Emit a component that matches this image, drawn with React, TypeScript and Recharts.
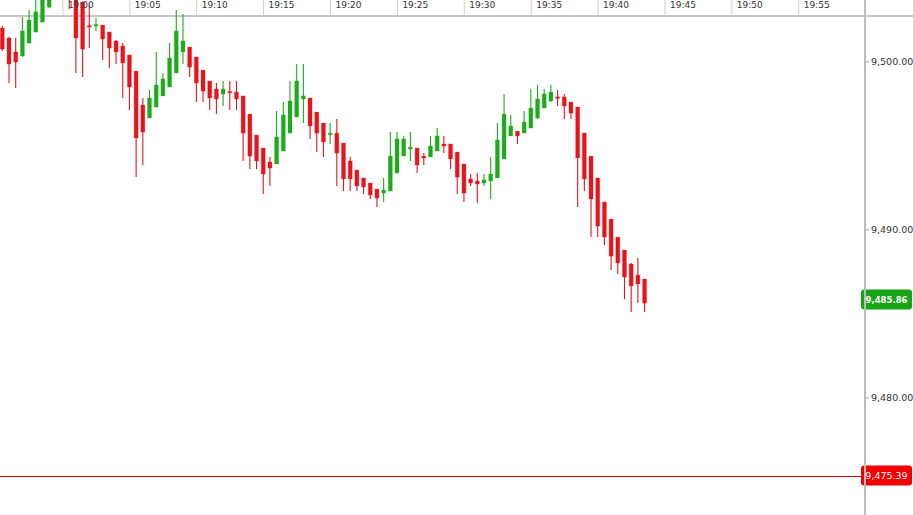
import { Bar, ComposedChart, ReferenceLine, XAxis, YAxis } from "recharts";

const RED = "#e8141c";
const GREEN = "#1daa1d";
const FONT = "'DejaVu Sans', Verdana, sans-serif";

// 30 second candles, minutes relative to 19:00 (first one is 18:55:30)
const firstCandle = -4.5;
const candleStep = 0.5;

const open = [
  9502.02, 9501.43, 9500.6, 9500.36, 9501.13, 9501.79, 9502.38, 9503.27, 9504.8, 9505.6,
  9505.0, 9504.0, 9503.57, 9502.17, 9502.17, 9502.2, 9501.79, 9501.25, 9500.95, 9500.42,
  9499.46, 9497.44, 9496.67, 9497.32, 9497.98, 9498.51, 9499.35, 9500.6, 9500.89, 9500.3,
  9499.52, 9498.87, 9498.39, 9498.1, 9498.25, 9498.21, 9497.98, 9496.9, 9495.65, 9494.88,
  9494.05, 9493.93, 9494.7, 9495.77, 9496.73, 9497.8, 9497.86, 9497.02, 9496.37, 9495.71,
  9495.77, 9495.18, 9494.11, 9493.57, 9493.1, 9492.8, 9492.44, 9492.2, 9492.32, 9493.39,
  9494.4, 9494.82, 9494.88, 9494.4, 9494.35, 9494.7, 9495.12, 9495.12, 9494.64, 9493.93,
  9493.04, 9492.92, 9492.8, 9492.92, 9493.1, 9494.23, 9495.6, 9495.89, 9495.77, 9496.07,
  9496.67, 9497.26, 9497.68, 9497.92, 9497.92, 9497.62, 9497.32, 9495.77, 9494.4, 9493.1,
  9491.67, 9490.65, 9489.58, 9488.81, 9487.98, 9487.32, 9487.08,
];
const high = [
  9502.14, 9501.5, 9501.43, 9502.68, 9503.1, 9504.0, 9504.5, 9505.2, 9506.0, 9506.1,
  9505.4, 9504.3, 9503.6, 9503.39, 9502.62, 9502.2, 9501.79, 9501.31, 9501.13, 9500.42,
  9499.46, 9497.86, 9498.33, 9500.6, 9499.35, 9501.13, 9503.1, 9502.86, 9500.89, 9500.3,
  9499.52, 9498.87, 9498.75, 9498.87, 9498.87, 9498.87, 9497.98, 9496.9, 9495.65, 9494.88,
  9494.35, 9497.08, 9497.62, 9498.87, 9499.88, 9499.88, 9497.86, 9497.02, 9496.37, 9496.37,
  9496.61, 9495.18, 9494.35, 9493.57, 9493.1, 9492.8, 9492.44, 9493.1, 9495.83, 9495.83,
  9495.6, 9495.83, 9494.88, 9494.58, 9495.6, 9496.07, 9495.6, 9495.12, 9494.64, 9493.93,
  9493.33, 9493.39, 9493.33, 9494.35, 9496.37, 9498.1, 9496.85, 9495.89, 9497.08, 9498.39,
  9498.63, 9498.39, 9498.63, 9498.33, 9498.1, 9497.62, 9497.32, 9495.77, 9494.4, 9493.1,
  9491.67, 9490.65, 9489.58, 9488.81, 9488.04, 9488.33, 9487.08,
];
const low = [
  9500.65, 9498.75, 9498.45, 9500.3, 9501.1, 9501.75, 9502.35, 9503.2, 9504.5, 9504.6,
  9503.15, 9499.35, 9499.11, 9500.83, 9501.85, 9500.12, 9499.64, 9499.88, 9497.86, 9497.14,
  9493.15, 9493.87, 9496.67, 9497.32, 9497.98, 9498.51, 9499.35, 9499.88, 9499.11, 9497.62,
  9497.62, 9497.14, 9496.9, 9497.38, 9497.14, 9497.14, 9494.11, 9493.63, 9493.63, 9492.14,
  9492.62, 9493.93, 9494.7, 9495.77, 9496.73, 9496.37, 9495.42, 9494.64, 9494.35, 9495.12,
  9492.62, 9492.32, 9492.32, 9492.32, 9492.14, 9491.85, 9491.37, 9491.67, 9492.32, 9493.39,
  9494.4, 9494.11, 9493.39, 9493.87, 9494.35, 9494.7, 9494.58, 9493.63, 9492.14, 9491.67,
  9492.62, 9491.61, 9492.62, 9491.85, 9493.1, 9494.23, 9495.6, 9495.12, 9495.77, 9496.07,
  9496.61, 9497.26, 9497.62, 9497.38, 9496.61, 9496.61, 9491.37, 9492.32, 9489.58, 9489.58,
  9489.11, 9487.62, 9487.38, 9485.89, 9485.12, 9485.65, 9485.12,
];
const close = [
  9500.77, 9499.88, 9500.0, 9501.85, 9502.5, 9502.98, 9504.2, 9504.8, 9505.6, 9504.9,
  9504.2, 9501.43, 9500.77, 9502.11, 9502.23, 9501.37, 9500.83, 9500.6, 9499.94, 9498.51,
  9495.48, 9495.83, 9497.86, 9498.63, 9498.99, 9500.24, 9501.85, 9501.25, 9499.7, 9498.75,
  9498.27, 9497.86, 9497.8, 9498.39, 9498.18, 9497.8, 9495.77, 9494.4, 9494.11, 9493.33,
  9493.69, 9495.54, 9496.85, 9497.68, 9498.87, 9497.98, 9496.19, 9495.77, 9495.24, 9495.77,
  9494.58, 9493.04, 9493.04, 9492.62, 9492.56, 9492.08, 9491.9, 9492.38, 9494.4, 9495.42,
  9495.42, 9494.94, 9493.87, 9494.29, 9495.0, 9495.6, 9495.0, 9494.23, 9493.15, 9492.2,
  9492.8, 9492.74, 9492.98, 9493.33, 9495.36, 9496.9, 9496.19, 9495.6, 9496.43, 9497.26,
  9497.8, 9498.1, 9498.21, 9497.86, 9497.38, 9496.96, 9494.29, 9493.04, 9491.85, 9490.24,
  9489.58, 9488.45, 9488.04, 9487.2, 9486.67, 9486.79, 9485.65,
];

const timeTicks = [0, 5, 10, 15, 20, 25, 30, 35, 40, 45, 50, 55];
const priceTicks = [9480, 9490, 9500];
const lastPrice = 9485.86;
const refPrice = 9475.39;

const data = open.map((o, i) => ({
  t: firstCandle + i * candleStep,
  open: o,
  high: high[i],
  low: low[i],
  close: close[i],
}));

const fmtPrice = (v: number) =>
  v.toLocaleString("en-US", { minimumFractionDigits: 2, maximumFractionDigits: 2 });

const fmtTime = (m: number) => {
  const total = 19 * 60 + m;
  const hh = Math.floor(total / 60);
  const mm = Math.round(total % 60);
  return `${hh}:${mm < 10 ? "0" : ""}${mm}`;
};

function Candle(props: any) {
  const { x, y, width, height, payload } = props;
  if (x == null || y == null) return null;
  const up = payload.close >= payload.open;
  const color = up ? GREEN : RED;
  const cx = x + width / 2;
  const top = Math.min(y, y + height);
  const bottom = Math.max(y, y + height);
  const ratio = (bottom - top) / (payload.high - payload.low || 1);
  const yOf = (v: number) => top + (payload.high - v) * ratio;
  const bodyTop = yOf(Math.max(payload.open, payload.close));
  const bodyH = Math.max(yOf(Math.min(payload.open, payload.close)) - bodyTop, 1.5);
  return (
    <g>
      <line x1={cx} x2={cx} y1={top} y2={bottom} stroke={color} strokeWidth={1.1} />
      <rect
        x={cx - 2}
        y={bodyTop}
        width={4}
        height={bodyH}
        fill={color}
        stroke={up ? "rgba(29,170,29,0.25)" : "rgba(232,20,28,0.25)"}
        strokeWidth={1}
      />
    </g>
  );
}

function TimeTick(props: any) {
  const { x, payload } = props;
  return (
    <g>
      <line x1={x} x2={x} y1={0} y2={15} stroke="#cfcfcf" strokeWidth={1} />
      <text x={x + 5} y={7.5} fontSize={9} fill="#333" fontFamily={FONT}>
        {fmtTime(payload.value)}
      </text>
    </g>
  );
}

// price tag on the right axis, optionally with a rule across the plot
function PriceBadge(props: any) {
  const { viewBox, price, color, bold, rule } = props;
  if (!viewBox) return null;
  const x = viewBox.x + viewBox.width - 4;
  const y = viewBox.y;
  return (
    <g>
      {rule && (
        <line
          x1={viewBox.x}
          x2={x}
          y1={Math.round(y) + 0.5}
          y2={Math.round(y) + 0.5}
          stroke={rule}
          strokeWidth={1}
        />
      )}
      <rect x={x} y={y - 10} width={51} height={20} rx={3} fill={color} />
      <text
        x={x + 25.5}
        y={y}
        dy="0.36em"
        textAnchor="middle"
        fill="#fff"
        fontSize={bold ? 8.5 : 9.5}
        fontWeight={bold ? "bold" : "normal"}
        fontFamily={FONT}
      >
        {fmtPrice(price)}
      </text>
    </g>
  );
}

export default function App() {
  return (
    <div style={{ position: "relative", width: 913, height: 515, background: "#fff" }}>
      <style>{"body{margin:0}"}</style>
      {/* header rule under the time labels */}
      <div
        style={{ position: "absolute", left: 0, top: 15, width: 913, height: 2, background: "#c6c6c6" }}
      />
      <ComposedChart
        width={913}
        height={515}
        data={data}
        margin={{ top: 0, right: 0, bottom: 0, left: 0 }}
      >
        <XAxis
          dataKey="t"
          type="number"
          domain={[-4.7, 59.95]}
          allowDataOverflow
          ticks={timeTicks}
          interval={0}
          orientation="top"
          mirror
          axisLine={false}
          tickLine={false}
          tick={TimeTick}
        />
        <YAxis
          orientation="right"
          width={48}
          domain={[9473.04, 9503.69]}
          allowDataOverflow
          ticks={priceTicks}
          tickFormatter={fmtPrice}
          axisLine={{ stroke: "#bdbdbd", strokeWidth: 2 }}
          tickLine={{ stroke: "#aaa" }}
          tickSize={4}
          tick={{ fill: "#333", fontSize: 9.5, fontFamily: FONT }}
        />
        <ReferenceLine
          y={refPrice}
          stroke="none"
          label={<PriceBadge price={refPrice} color="#f20000" rule="#d80000" />}
        />
        <ReferenceLine
          y={lastPrice}
          stroke="none"
          label={<PriceBadge price={lastPrice} color="#17a517" bold />}
        />
        <Bar
          dataKey={(d: any) => [d.low, d.high]}
          barSize={6}
          shape={Candle}
          isAnimationActive={false}
        />
      </ComposedChart>
    </div>
  );
}
